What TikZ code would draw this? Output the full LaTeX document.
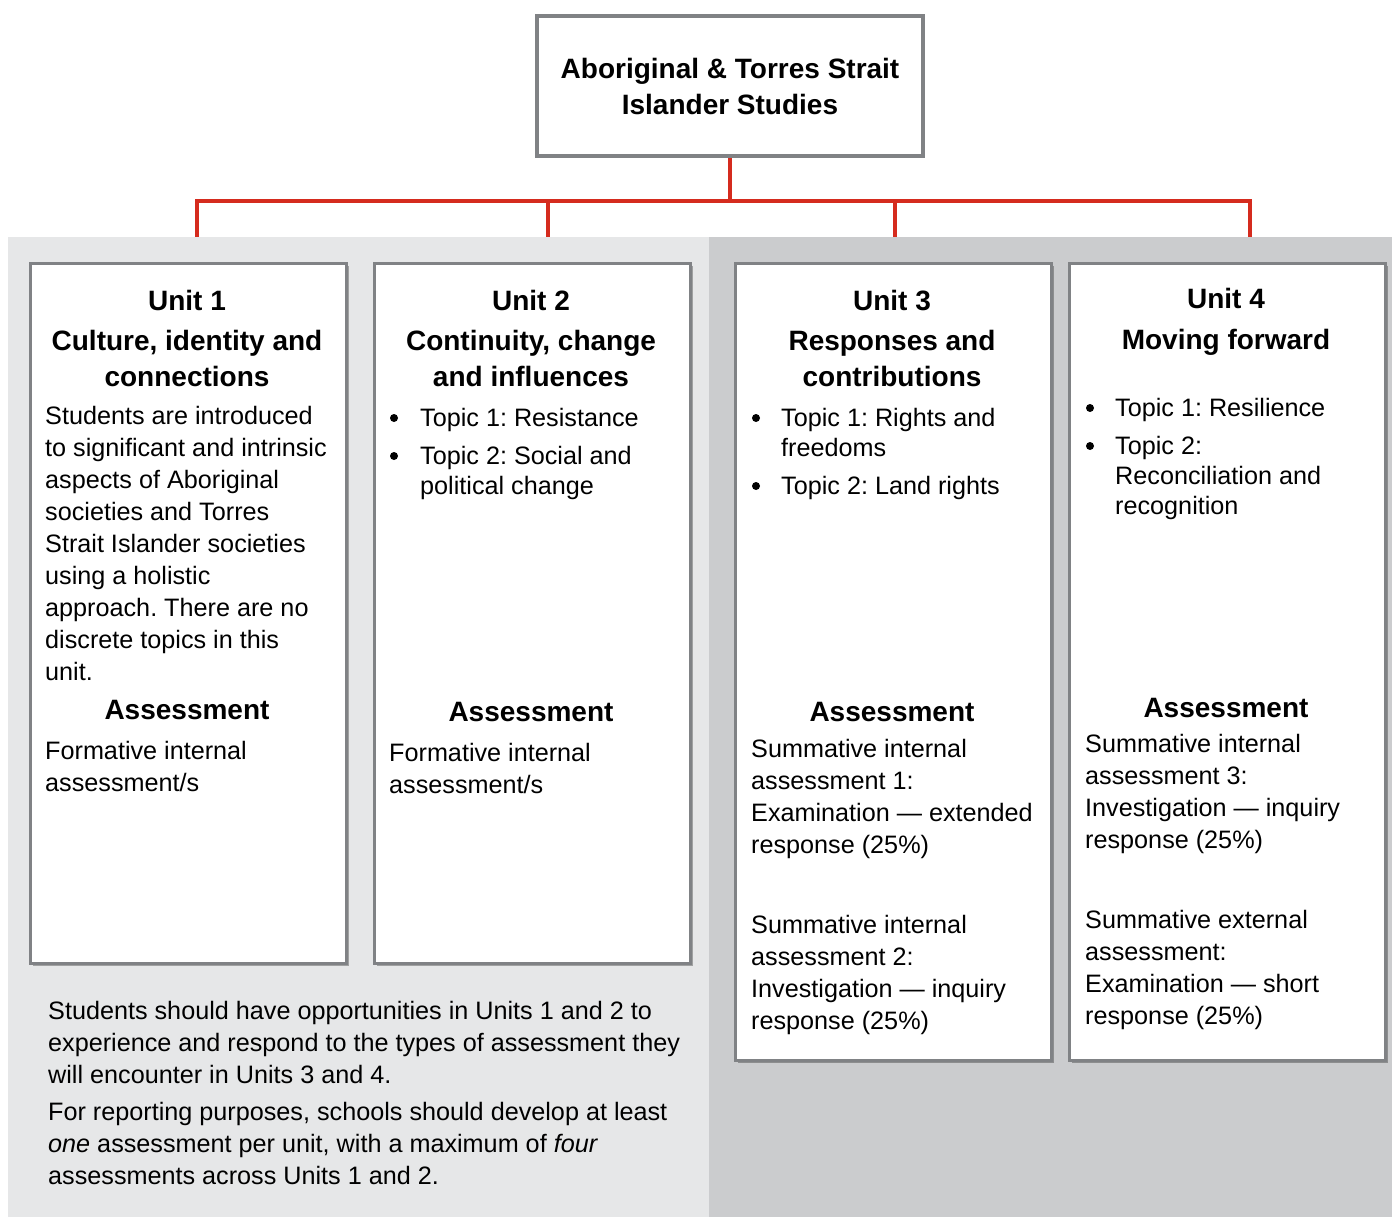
\documentclass[tikz,border=0pt]{standalone}
\usepackage{fontspec}
\setmainfont{Liberation Sans}
\usetikzlibrary{shadows}
\frenchspacing
\definecolor{panelA}{HTML}{E6E7E8}
\definecolor{panelB}{HTML}{CBCCCE}
\definecolor{boxgray}{HTML}{808285}
\definecolor{linered}{HTML}{D52B1E}
\newcommand{\bodysize}{\fontsize{25.2pt}{32pt}\selectfont}
\newcommand{\itemsize}{\fontsize{25.2pt}{30pt}\selectfont}
\newcommand{\headsize}{\fontsize{28pt}{36pt}\selectfont}

\begin{document}
\begin{tikzpicture}[
    x=1pt, y=-1pt, % pixel-like units, y runs downwards
    titlebox/.style = {draw=boxgray, line width=3.2pt, fill=white, minimum width=386pt, minimum height=140pt, align=center, font=\headsize\bfseries},
    unitbox/.style  = {draw=boxgray, line width=2.8pt, fill=white, anchor=north west, minimum width=316pt,
                       drop shadow={shadow xshift=3pt, shadow yshift=-3pt, fill=black, opacity=0.3}},
    head/.style     = {anchor=north, inner sep=0pt, align=center, font=\headsize\bfseries},
    body/.style     = {anchor=north west, inner sep=0pt, align=left, font=\bodysize},
    itm/.style      = {body, font=\itemsize},
    dot/.style      = {circle, fill=black, minimum size=8pt, inner sep=0pt},
    redline/.style  = {draw=linered, line width=3.4pt}
  ]
  \useasboundingbox (0,0) rectangle (1392,1217);

  % ===== Title and red connectors =====
  \node[titlebox] (title) at (730,86) {Aboriginal \& Torres Strait\\Islander Studies};
  \coordinate (bus) at (730,201);
  \draw[redline] (title.south) -- (bus);
  \foreach \x [count=\i] in {197,548,895,1250}{
    \coordinate (drop\i) at (\x,237);
    \draw[redline] (bus) -| (drop\i);
  }

  % ===== Background panels =====
  \fill[panelA] (8,237) rectangle (709,1217);
  \fill[panelB] (709,237) rectangle (1392,1217);

  % ===== Unit boxes =====
  \node[unitbox, minimum height=700pt] (u1) at (29,262) {};
  \node[unitbox, minimum height=700pt] (u2) at (373,262) {};
  \node[unitbox, minimum height=797pt] (u3) at (734,262) {};
  \node[unitbox, minimum height=797pt] (u4) at (1068,262) {};

  % ===== Unit 1 =====
  \node[head] (h1) at (187,290) {Unit 1\\[4pt]Culture, identity and\\connections};
  \node[body] (t1) at (45,406) {Students are introduced\\to significant and intrinsic\\aspects of Aboriginal\\societies and Torres\\Strait Islander societies\\using a holistic\\approach. There are no\\discrete topics in this\\unit.};
  \node[head] (a1) at (187,700) {Assessment};
  \node[body] (f1) at (45,741) {Formative internal\\assessment/s};

  % ===== Unit 2 =====
  \node[head] (h2) at (531,290) {Unit 2\\[4pt]Continuity, change\\and influences};
  \node[dot] (d21) at (394,418) {};
  \node[itm] (i21) at (420,408) {Topic 1: Resistance};
  \node[dot] (d22) at (394,456) {};
  \node[itm] (i22) at (420,446) {Topic 2: Social and\\political change};
  \node[head] (a2) at (531,702) {Assessment};
  \node[body] (f2) at (389,743) {Formative internal\\assessment/s};

  % ===== Unit 3 =====
  \node[head] (h3) at (892,290) {Unit 3\\[4pt]Responses and\\contributions};
  \node[dot] (d31) at (756,418) {};
  \node[itm] (i31) at (781,408) {Topic 1: Rights and\\freedoms};
  \node[dot] (d32) at (756,486) {};
  \node[itm] (i32) at (781,476) {Topic 2: Land rights};
  \node[head] (a3) at (892,702) {Assessment};
  \node[body] (s31) at (751,739) {Summative internal\\assessment 1:\\Examination — extended\\response (25\%)};
  \node[body] (s32) at (751,915) {Summative internal\\assessment 2:\\Investigation — inquiry\\response (25\%)};

  % ===== Unit 4 =====
  \node[head] (h4) at (1226,288) {Unit 4\\[5pt]Moving forward};
  \node[dot] (d41) at (1090,408) {};
  \node[itm] (i41) at (1115,398) {Topic 1: Resilience};
  \node[dot] (d42) at (1090,446) {};
  \node[itm] (i42) at (1115,436) {Topic 2:\\Reconciliation and\\recognition};
  \node[head] (a4) at (1226,698) {Assessment};
  \node[body] (s41) at (1085,734) {Summative internal\\assessment 3:\\Investigation — inquiry\\response (25\%)};
  \node[body] (s42) at (1085,910) {Summative external\\assessment:\\Examination — short\\response (25\%)};

  % ===== Notes under Units 1 and 2 =====
  \node[body] (n1) at (48,1001) {Students should have opportunities in Units 1 and 2 to\\experience and respond to the types of assessment they\\will encounter in Units 3 and 4.};
  \node[body] (n2) at (48,1102) {For reporting purposes, schools should develop at least\\\textit{one} assessment per unit, with a maximum of \textit{four}\\assessments across Units 1 and 2.};
\end{tikzpicture}
\end{document}
